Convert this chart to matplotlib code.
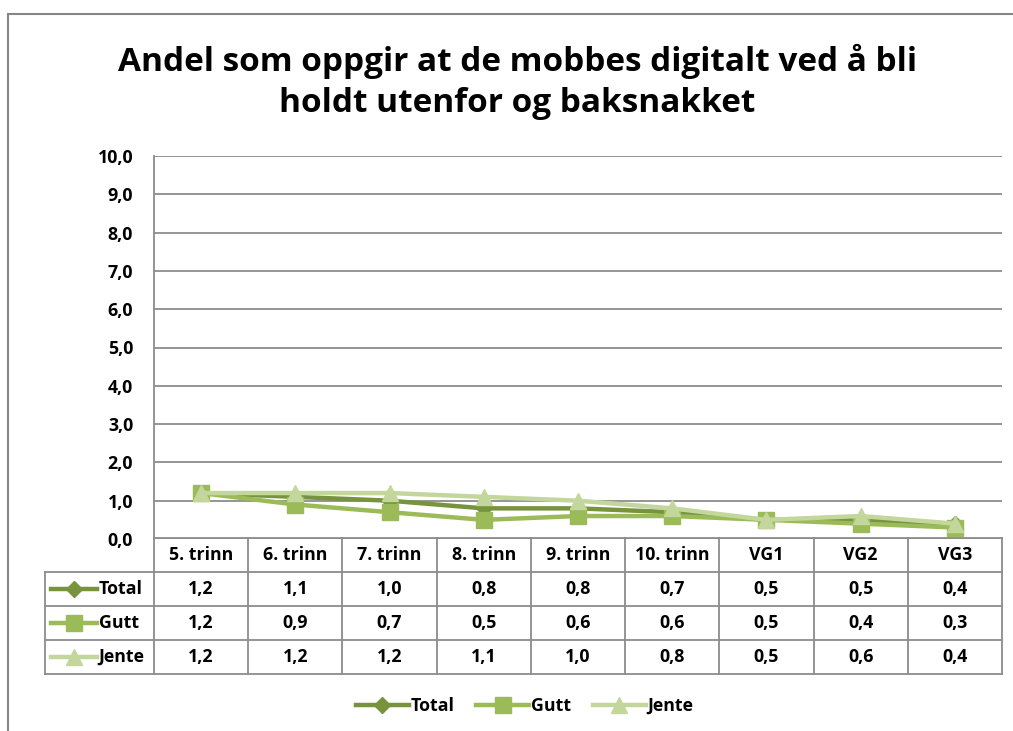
import matplotlib.pyplot as plt
from matplotlib.patches import Rectangle
from matplotlib.lines import Line2D

plt.rcParams['font.family'] = ['Open Sans', 'DejaVu Sans']
plt.rcParams['font.weight'] = 'bold'

# data
grades = ["5. trinn", "6. trinn", "7. trinn", "8. trinn", "9. trinn",
          "10. trinn", "VG1", "VG2", "VG3"]
total = [1.2, 1.1, 1.0, 0.8, 0.8, 0.7, 0.5, 0.5, 0.4]
gutt = [1.2, 0.9, 0.7, 0.5, 0.6, 0.6, 0.5, 0.4, 0.3]
jente = [1.2, 1.2, 1.2, 1.1, 1.0, 0.8, 0.5, 0.6, 0.4]
series_names = ["Total", "Gutt", "Jente"]
yticks = [0, 1, 2, 3, 4, 5, 6, 7, 8, 9, 10]

colors = ["#77933C", "#9BBB59", "#C3D69B"]
markers = ["D", "s", "^"]
msizes = [8, 12, 12]
grid_col = "#8C8C8C"
fs = 12.8

fig = plt.figure(figsize=(10.13, 7.31), dpi=100)

# outer chart border (cut by the image edge on right/bottom)
fig.patches.append(Rectangle((8 / 1013, -0.1), 1.2, 0.9808 + 0.1,
                             transform=fig.transFigure, fill=False,
                             edgecolor="#868686", lw=1.5))

fig.text(0.511, 0.888, "Andel som oppgir at de mobbes digitalt ved å bli\nholdt utenfor og baksnakket",
         ha="center", va="center", fontsize=24, fontweight="bold",
         linespacing=1.35)

ax = fig.add_axes([154 / 1013, 1 - 539 / 731, 848 / 1013, 383 / 731])
x = range(len(grades))
all_series = [total, gutt, jente]
for vals, name, c, m, ms in zip(all_series, series_names, colors, markers, msizes):
    ax.plot(x, vals, color=c, lw=3.2, marker=m, markersize=ms, label=name,
            solid_joinstyle="round")

ax.set_xlim(-0.5, len(grades) - 0.5)
ax.set_ylim(0, 10)
ax.set_yticks(yticks)
ax.set_yticklabels([f"{v:.1f}".replace(".", ",") for v in yticks])
ax.tick_params(axis="y", length=0, pad=15, labelsize=fs)
ax.set_xticks([])
ax.grid(axis="y", color=grid_col, lw=1.3)
for s in ["top", "right", "bottom"]:
    ax.spines[s].set_visible(False)
ax.spines["left"].set_color(grid_col)
ax.spines["left"].set_linewidth(1.3)

# data table below the plot
tx = fig.add_axes([45 / 1013, 1 - 674 / 731, 957 / 1013, 136 / 731])
left = -0.5 - 109 / 94.22
n = len(grades)
tx.set_xlim(left, n - 0.5)
tx.set_ylim(4, 0)
tx.axis("off")
tx.plot([-0.5, n - 0.5], [0, 0], color=grid_col, lw=1.3, clip_on=False)
for r in range(1, 5):
    tx.plot([left, n - 0.5], [r, r], color=grid_col, lw=1.3, clip_on=False)
tx.plot([left, left], [1, 4], color=grid_col, lw=1.3, clip_on=False)
for k in range(n + 1):
    tx.plot([k - 0.5, k - 0.5], [0, 4], color=grid_col, lw=1.3, clip_on=False)
for i, g in enumerate(grades):
    tx.text(i, 0.5, g, ha="center", va="center", fontsize=fs, fontweight="bold")
for r, (vals, name, c, m, ms) in enumerate(zip(all_series, series_names, colors, markers, msizes)):
    y = r + 1.5
    tx.plot([left + 0.06, left + 0.55], [y, y], color=c, lw=3.2, clip_on=False)
    tx.plot([left + 0.305], [y], marker=m, color=c, markersize=ms, clip_on=False)
    tx.text(left + 0.57, y, name, ha="left", va="center", fontsize=fs, fontweight="bold")
    for i, v in enumerate(vals):
        tx.text(i, y, f"{v:.1f}".replace(".", ","), ha="center", va="center",
                fontsize=fs, fontweight="bold")

handles = [Line2D([], [], color=c, lw=3.2, marker=m, markersize=ms)
           for c, m, ms in zip(colors, markers, msizes)]
fig.legend(handles, series_names, loc="center", bbox_to_anchor=(0.518, 0.034),
           ncol=3, frameon=False, fontsize=fs, handlelength=3.0,
           handletextpad=0.1, columnspacing=1.2)

fig.savefig("out.png", dpi=100)
